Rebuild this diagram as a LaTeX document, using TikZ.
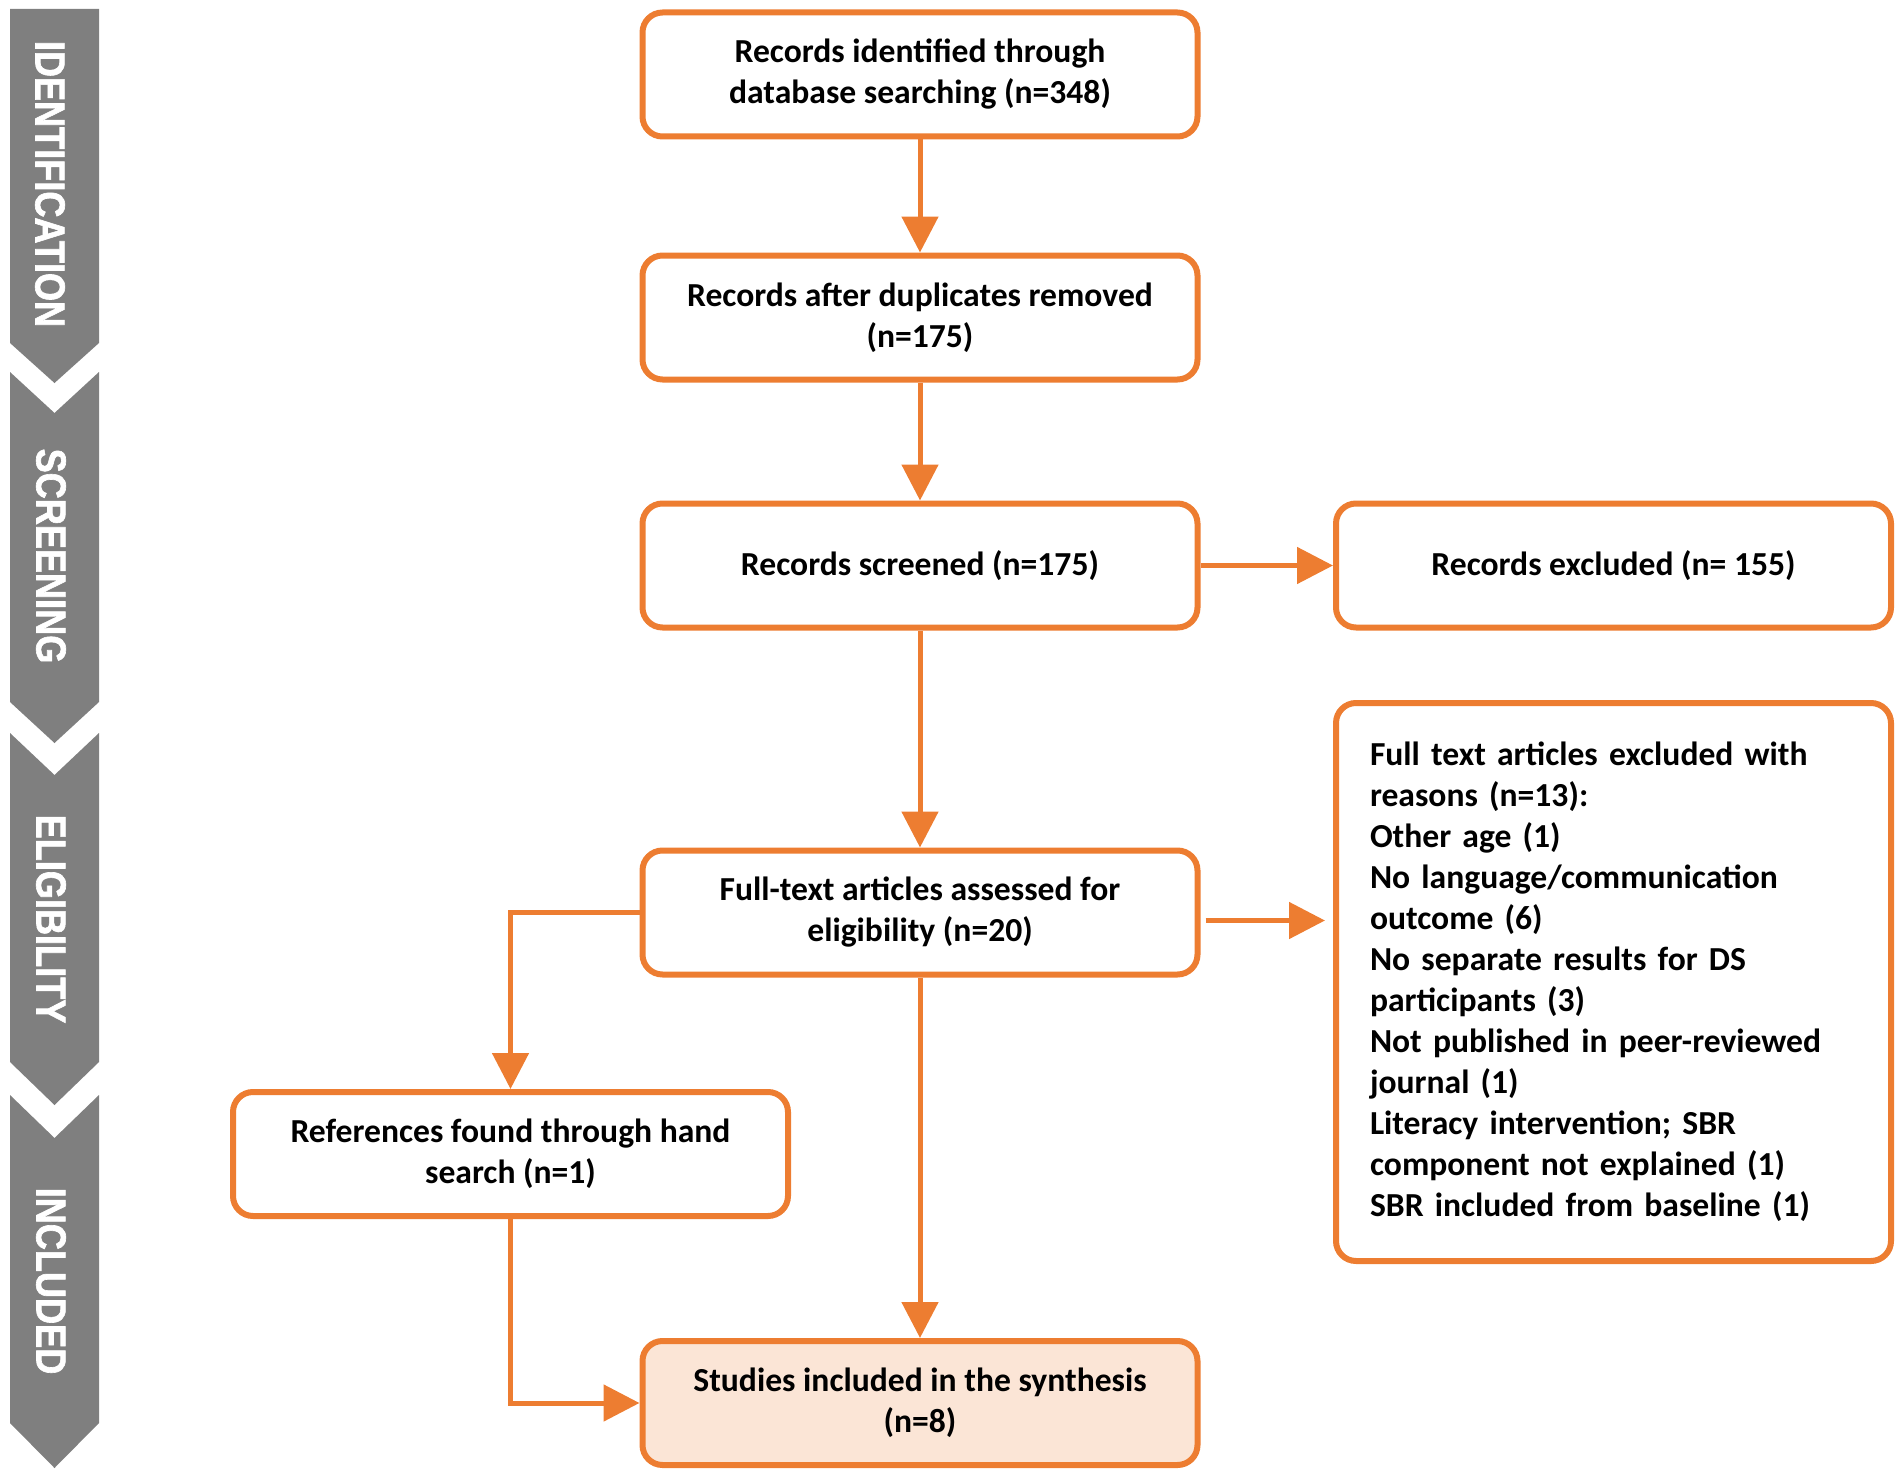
\documentclass[tikz,border=0pt]{standalone}
\usepackage{fontspec}
\setmainfont{Carlito}
\newfontfamily\bannerfont{Liberation Sans Bold}[FakeStretch=0.86,FakeBold=1.5]
\usetikzlibrary{arrows.meta}
\definecolor{orng}{HTML}{ED7D31}
\definecolor{bgray}{HTML}{7F7F7F}
\definecolor{peach}{HTML}{FBE5D6}
\begin{document}
\begin{tikzpicture}[x=0.5pt,y=-0.5pt,
 box/.style={draw=orng, line width=3pt, rounded corners=10pt, fill=white,
   minimum width=277.5pt, minimum height=62pt, align=center, inner sep=0pt,
   font=\bfseries\fontsize{16.8}{20.5}\selectfont, text=black},
 arr/.style={draw=orng, line width=2.5pt, -{Triangle[length=18pt,width=18pt]}},
 bandtext/.style={text=white, rotate=-90, inner sep=0pt,
   font=\bannerfont\fontsize{21}{24}\selectfont}
]
\useasboundingbox (0,0) rectangle (1902,1477);

% stage banner
\fill[bgray] (10,9) -- (99,9) -- (99,343) -- (54.5,383) -- (10,343) -- cycle;
\fill[bgray] (10,372) -- (54.5,413) -- (99,372) -- (99,702) -- (54.5,743) -- (10,702) -- cycle;
\fill[bgray] (10,733) -- (54.5,775) -- (99,733) -- (99,1062) -- (54.5,1105) -- (10,1062) -- cycle;
\fill[bgray] (10,1095) -- (54.5,1138) -- (99,1095) -- (99,1423) -- (54.5,1468) -- (10,1423) -- cycle;
\node[bandtext] (t1) at (50,184) {IDENTIFICATION};
\node[bandtext] (t2) at (51,556) {SCREENING};
\node[bandtext] (t3) at (51,919) {ELIGIBILITY};
\node[bandtext] (t4) at (51,1281) {INCLUDED};

% boxes
\node[box] (b1) at (920,74.5) {Records identified through\\database searching (n=348)};
\node[box] (b2) at (920,317.5) {Records after duplicates removed\\(n=175)};
\node[box] (b3) at (920,565.5) {Records screened (n=175)};
\node[box] (ex) at (1613.5,565.5) {Records excluded (n= 155)};
\node[box] (b4) at (920,912.5) {Full-text articles assessed for\\eligibility (n=20)};
\node[box, minimum height=279pt, text width=243.5pt, inner xsep=16pt, align=left] (rs) at (1613.5,982)
 {Full text articles excluded with\\
  reasons (n=13):\\
  Other age (1)\\
  No language/communication\\
  outcome (6)\\
  No separate results for DS\\
  participants (3)\\
  Not published in peer-reviewed\\
  journal (1)\\
  Literacy intervention; SBR\\
  component not explained (1)\\
  SBR included from baseline (1)};
\node[box] (hs) at (510.5,1154) {References found through hand\\search (n=1)};
\node[box, fill=peach] (fn) at (920,1403) {Studies included in the synthesis\\(n=8)};

% connectors
\draw[arr] (b1) -- (b2);
\draw[arr] (b2) -- (b3);
\draw[arr] (b3) -- (ex);
\draw[arr] (b3) -- (b4);
\draw[arr] (b4) -- (fn);
\draw[arr, shorten <=2.5pt, shorten >=4pt] ([yshift=-4pt]b4.east) -- ([yshift=-4pt]b4.east -| rs.west);
\draw[arr] (b4.west) -| (hs.north);
\draw[arr] (hs.south) |- (fn.west);
\end{tikzpicture}
\end{document}
